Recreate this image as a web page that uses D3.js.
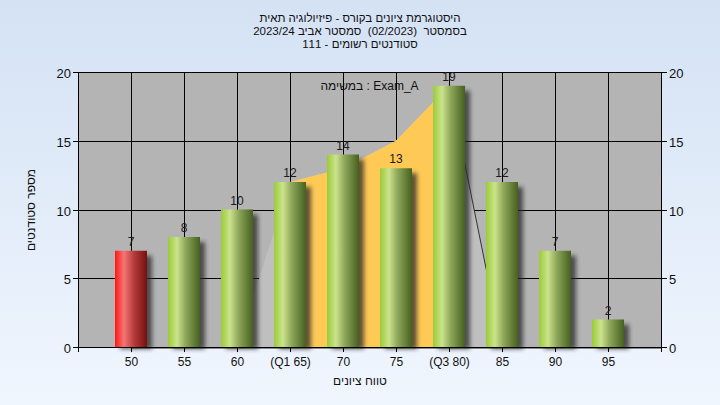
<!DOCTYPE html>
<html><head><meta charset="utf-8">
<script src="https://cdn.jsdelivr.net/npm/d3@7/dist/d3.min.js"></script>
<style>html,body{margin:0;padding:0;overflow:hidden;background:#e6eff9} text{white-space:pre}</style>
</head><body>
<svg id="c" width="720" height="405"></svg>
<script>
const categories = ["50","55","60","(Q1 65)","70","75","(Q3 80)","85","90","95"];
const counts = [7,8,10,12,14,13,19,12,7,2];
const barKind = ["fail","pass","pass","pass","pass","pass","pass","pass","pass","pass"];
// distribution shape (light gray) and inter-quartile band (yellow)
const distValues = [null,null,0,12,13,15,19,0,null,null];
const iqrValues = [null,null,null,12,13,15,19,null,null,null];
const yTicks = [0,5,10,15,20];
const titleLines = ["היסטוגרמת ציונים בקורס - פיזיולוגיה תאית","בסמסטר  (02/2023)  סמסטר אביב 2023/24","סטודנטים רשומים - 111"];
const legendText = "במשימה : Exam_A";
const xTitle = "טווח ציונים";
const yTitle = "מספר סטודנטים";

const W=720,H=405, L=78,R=661,T=72,B=347;
const svg=d3.select("#c");
const font="'Liberation Sans', Arial, sans-serif";
const defs=svg.append("defs");
const bg=defs.append("linearGradient").attr("id","bg").attr("x1",0).attr("y1",0).attr("x2",0).attr("y2",1);
bg.append("stop").attr("offset",0).attr("stop-color","#d4e2f4");
bg.append("stop").attr("offset",1).attr("stop-color","#f0f6fe");
function grad(id,stops){const g=defs.append("linearGradient").attr("id",id).attr("x1",0).attr("y1",0).attr("x2",1).attr("y2",0);
 stops.forEach(s=>g.append("stop").attr("offset",s[0]).attr("stop-color",s[1]));}
grad("gPass",[[0,"#9acb38"],[0.28,"#cbe38c"],[0.55,"#8ea75a"],[1,"#46601f"]]);
grad("gFail",[[0,"#ff1616"],[0.28,"#f47676"],[0.6,"#b43a3a"],[1,"#751010"]]);
const f=defs.append("filter").attr("id","sh").attr("x","-50%").attr("y","-50%").attr("width","200%").attr("height","200%");
f.append("feGaussianBlur").attr("stdDeviation",2);

svg.append("rect").attr("width",W).attr("height",H).attr("fill","url(#bg)");

const x=d3.scaleLinear().domain([0,categories.length+1]).range([L,R]);
const y=d3.scaleLinear().domain([0,20]).range([B,T]);
const cx=i=>x(i+1);

svg.append("rect").attr("x",L).attr("y",T).attr("width",R-L).attr("height",B-T).attr("fill","#b4b4b4");

// grid
const grid=svg.append("g").attr("stroke","#000").attr("stroke-width",1);
yTicks.forEach(t=>grid.append("line").attr("x1",L).attr("x2",R).attr("y1",Math.round(y(t))+0.5).attr("y2",Math.round(y(t))+0.5));
categories.forEach((c,i)=>grid.append("line").attr("x1",Math.round(cx(i))+0.5).attr("x2",Math.round(cx(i))+0.5).attr("y1",T).attr("y2",B));

// distribution areas
const area=d3.area().defined(d=>d.v!==null).x(d=>cx(d.i)).y0(y(0)).y1(d=>y(d.v));
const dist=distValues.map((v,i)=>({i,v}));
svg.append("path").datum(dist).attr("d",area).attr("fill","#bfbfbf");
svg.append("path").datum(iqrValues.map((v,i)=>({i,v}))).attr("d",area).attr("fill","#ffc955");
svg.append("line").attr("x1",cx(6)).attr("y1",y(19)).attr("x2",cx(7)).attr("y2",y(0)).attr("stroke","#333").attr("stroke-width",1);
svg.append("line").attr("x1",cx(0)).attr("x2",R).attr("y1",B+1.5).attr("y2",B+1.5).attr("stroke","#8a8a8a").attr("stroke-width",1);

// bars
const bw=32;
const bars=svg.append("g");
counts.forEach((v,i)=>{
  bars.append("rect").attr("x",cx(i)-bw/2+5).attr("y",y(v)+5).attr("width",bw).attr("height",y(0)-y(v)-3)
    .attr("fill","#2a2a2a").attr("opacity",0.75).attr("filter","url(#sh)");
});
counts.forEach((v,i)=>{
  bars.append("rect").attr("x",cx(i)-bw/2).attr("y",y(v)).attr("width",bw).attr("height",y(0)-y(v))
    .attr("fill",barKind[i]==="fail"?"url(#gFail)":"url(#gPass)");
  bars.append("text").attr("x",cx(i)).attr("y",y(v)-5).attr("text-anchor","middle")
    .attr("font-family",font).attr("font-size",12).attr("fill","#221818").text(v);
});

// axes lines
const ax=svg.append("g").attr("stroke","#000").attr("stroke-width",1);
ax.append("line").attr("x1",L+0.5).attr("x2",L+0.5).attr("y1",T).attr("y2",B+5);
ax.append("line").attr("x1",R+0.5).attr("x2",R+0.5).attr("y1",T).attr("y2",B+5);
ax.append("line").attr("x1",L).attr("x2",R).attr("y1",B+0.5).attr("y2",B+0.5);
yTicks.forEach(t=>{
  const yy=Math.round(y(t))+0.5;
  ax.append("line").attr("x1",L-5).attr("x2",L).attr("y1",yy).attr("y2",yy);
  ax.append("line").attr("x1",R).attr("x2",R+6).attr("y1",yy).attr("y2",yy);
  svg.append("text").attr("x",L-7).attr("y",yy+5).attr("text-anchor","end").attr("font-family",font).attr("font-size",13).attr("fill","#111").text(t);
  svg.append("text").attr("x",R+8).attr("y",yy+5).attr("text-anchor","start").attr("font-family",font).attr("font-size",13).attr("fill","#111").text(t);
});
categories.forEach((c,i)=>{
  const xx=Math.round(cx(i))+0.5;
  ax.append("line").attr("x1",xx).attr("x2",xx).attr("y1",B).attr("y2",B+5);
  svg.append("text").attr("x",xx).attr("y",366).attr("text-anchor","middle").attr("direction","ltr")
    .attr("font-family",font).attr("font-size",12).attr("fill","#111").text(c);
});

// titles
titleLines.forEach((t,k)=>svg.append("text").attr("x",360).attr("y",22+k*13).attr("text-anchor","middle")
  .attr("direction","rtl").attr("font-family",font).attr("font-size",11.5).attr("fill","#111").text(t));
svg.append("text").attr("x",(L+R)/2).attr("y",90).attr("text-anchor","middle").attr("direction","ltr")
  .attr("font-family",font).attr("font-size",12).attr("fill","#111").text(legendText);
svg.append("text").attr("x",360).attr("y",385).attr("text-anchor","middle").attr("direction","rtl")
  .attr("font-family",font).attr("font-size",12).attr("fill","#111").text(xTitle);
svg.append("text").attr("transform","translate(35,210) rotate(-90)").attr("text-anchor","middle").attr("direction","rtl")
  .attr("font-family",font).attr("font-size",12).attr("fill","#111").text(yTitle);
</script>
</body></html>
